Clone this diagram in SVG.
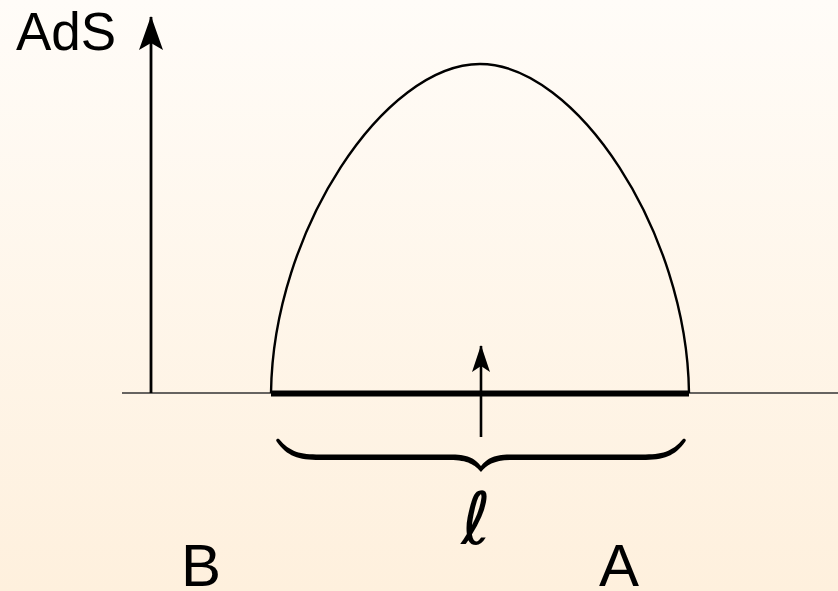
<svg xmlns="http://www.w3.org/2000/svg" width="838" height="591" viewBox="0 0 838 591">
  <style>
    .lbl { font-family: "Liberation Sans", Arial, sans-serif; fill: #000; }
    .ln { fill: none; stroke: #000; }
  </style>
  <defs>
    <linearGradient id="bg" x1="0" y1="0" x2="0" y2="1">
      <stop offset="0" stop-color="#fffcf8"/>
      <stop offset="1" stop-color="#fef0dd"/>
    </linearGradient>
    <marker id="arrBig" markerUnits="userSpaceOnUse" viewBox="0 0 34 24" refX="33" refY="12" markerWidth="34" markerHeight="24" orient="auto">
      <path d="M0,0 L34,12 L0,24 L7,12 Z" fill="#000"/>
    </marker>
    <marker id="arrSmall" markerUnits="userSpaceOnUse" viewBox="0 0 27 18" refX="26" refY="9" markerWidth="27" markerHeight="18" orient="auto">
      <path d="M0,0 L27,9 L0,18 L6,9 Z" fill="#000"/>
    </marker>
  </defs>
  <rect x="0" y="0" width="838" height="591" fill="url(#bg)"/>

  <g id="connectors">
    <line id="baseline" x1="122" y1="393" x2="838" y2="393" stroke="#333" stroke-width="1.5"/>
    <line id="ads-axis" class="ln" x1="151" y1="393" x2="151" y2="17" stroke-width="2.8" marker-end="url(#arrBig)"/>
    <line id="flow-arrow" class="ln" x1="481" y1="437" x2="481" y2="346" stroke-width="2.6" marker-end="url(#arrSmall)"/>
  </g>

  <g id="dome">
    <path class="ln" stroke-width="2.4" d="M271,393 C273,230 385,64 480,64 C575,64 687,230 689,393"/>
  </g>

  <g id="interval">
    <line x1="271" y1="393.5" x2="689" y2="393.5" stroke="#000" stroke-width="6"/>
  </g>

  <g id="brace">
    <path fill="#000" d="M279,439 C290,452 300,454.5 320,454.5 L452,454.5 C470,454.5 476,460 481,466 C486,460 492,454.5 510,454.5 L642,454.5 C662,454.5 672,452 683,439 C685,438 687,440 685,442 C675,456 664,460 642,460 L512,460 C494,460 487,465 481,472 C475,465 468,460 450,460 L320,460 C298,460 287,456 277,442 C275,440 277,438 279,439 Z"/>
  </g>

  <g id="label-ads">
    <text class="lbl" x="16" y="50" font-size="53">AdS</text>
  </g>
  <g id="label-ell">
    <text x="476" y="544" font-family="DejaVu Sans, sans-serif" font-weight="200" font-style="italic" font-size="72" text-anchor="middle">ℓ</text>
  </g>
  <g id="label-B">
    <text class="lbl" x="181" y="586" font-size="60">B</text>
  </g>
  <g id="label-A">
    <text class="lbl" x="599" y="586" font-size="60">A</text>
  </g>
</svg>
